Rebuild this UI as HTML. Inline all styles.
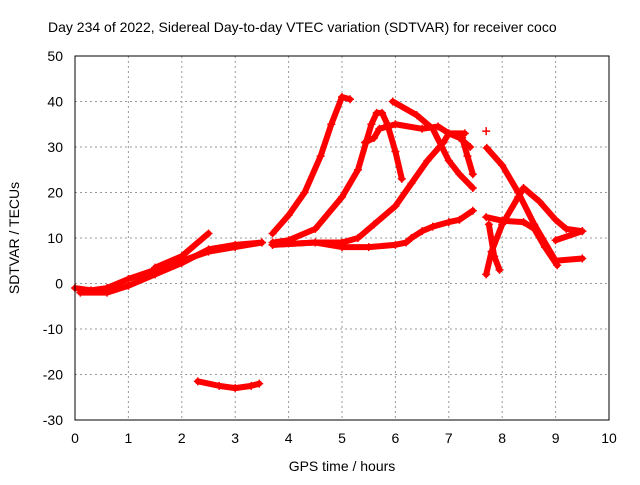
<!DOCTYPE html>
<html><head><meta charset="utf-8"><style>
body{margin:0;background:#fff;}
svg text{font-family:"Liberation Sans",sans-serif;font-size:14px;fill:#000;}
</style></head><body>
<svg id="chart" width="640" height="480">
<rect width="640" height="480" fill="#fff"/>
<text x="48" y="32">Day 234 of 2022, Sidereal Day-to-day VTEC variation (SDTVAR) for receiver coco</text>
<g id="grid"></g>
<g id="ticks"></g>
<g id="marks"></g>
<rect x="75" y="56" width="534" height="364" fill="none" stroke="#000"/>
<text x="342" y="471" text-anchor="middle">GPS time / hours</text>
<text transform="translate(19,238) rotate(-90)" text-anchor="middle">SDTVAR / TECUs</text>
</svg>
<script>
const xTicks=[0,1,2,3,4,5,6,7,8,9,10];
const yTicks=[-30,-20,-10,0,10,20,30,40,50];
const trackA=[[0,-1],[0.3,-1.5],[0.6,-1],[1,1],[1.5,3],[2,5],[2.5,7],[3,8],[3.5,9]];
const trackA2=[[0.1,-2],[0.6,-2],[1,-0.5],[1.5,2],[2,4.5],[2.5,7.5],[3,8.5],[3.5,9]];
const trackB=[[1.5,3.5],[2,6],[2.5,11]];
const trackNeg=[[2.3,-21.5],[2.7,-22.5],[3,-23],[3.3,-22.5],[3.45,-22]];
const trackC=[[3.7,11],[4,15],[4.3,20],[4.6,28],[4.8,35],[5,41],[5.15,40.5]];
const trackD=[[3.7,9],[4,9.5],[4.5,12],[5,19],[5.3,25],[5.45,31],[5.55,35],[5.65,37.5],[5.75,37.5],[5.85,35],[6,29],[6.12,23]];
const trackE=[[3.7,8.5],[4.5,9],[5,8],[5.5,8],[6,8.5],[6.2,9],[6.3,10],[6.5,11.5],[6.7,12.5],[7,13.5],[7.2,14],[7.45,16]];
const trackF=[[3.7,8.5],[4.5,9],[5,9],[5.3,10],[5.6,13],[6,17],[6.3,22],[6.6,27],[6.9,31],[7,33],[7.3,33]];
const trackG=[[5.95,40],[6.4,37],[6.7,34],[7,27],[7.2,24],[7.45,21]];
const trackP=[[5.43,31],[5.6,32],[5.7,34],[6,35],[6.5,34],[6.8,34.5],[7,33],[7.2,32],[7.4,30]];
const trackP2=[[7.25,32],[7.35,28],[7.45,24]];
const trackR1=[[7.71,29.8],[8,26],[8.3,20],[8.6,13],[9,5],[9.5,5.5]];
const trackR2=[[7.7,14.6],[8,13.8],[8.4,13.5],[8.6,12],[8.8,8],[9.03,4]];
const trackR3=[[7.7,2],[7.8,7],[8,13],[8.3,19],[8.4,21],[8.7,18],[9,14],[9.2,12],[9.5,11.5]];
const trackR4=[[7.75,13],[7.85,6],[7.95,3]];
const trackR5=[[9,9.5],[9.5,11.5]];
const trackIso=[[7.7,33.5]];
const tracks=[trackA,trackA2,trackB,trackNeg,trackC,trackD,trackE,trackF,trackG,trackP,trackP2,trackR1,trackR2,trackR3,trackR4,trackR5,trackIso];
const NS='http://www.w3.org/2000/svg';
const X=v=>75+v*53.4, Y=v=>283.5-v*4.55;
const grid=document.getElementById('grid'),ticks=document.getElementById('ticks'),marks=document.getElementById('marks');
function mk(t,a,p){const e=document.createElementNS(NS,t);for(const k in a)e.setAttribute(k,a[k]);p.appendChild(e);return e;}
xTicks.forEach(t=>{
 if(t>0&&t<10){const g=mk('line',{x1:X(t),x2:X(t),y1:56,y2:420,stroke:'#999','stroke-dasharray':'2,3'},grid);
 
 }
 const l=mk('text',{x:X(t),y:443,'text-anchor':'middle'},ticks);l.textContent=t;
 
 
});
yTicks.forEach(t=>{
 if(t>-30&&t<50){const g=mk('line',{x1:75,x2:609,y1:Y(t),y2:Y(t),stroke:'#999','stroke-dasharray':'2,3'},grid);
 
 }
 const l=mk('text',{x:63,y:Y(t)+5,'text-anchor':'end'},ticks);l.textContent=t;
 
 
});
tracks.forEach(tr=>{
 const pl=mk('polyline',{points:tr.map(p=>X(p[0])+','+Y(p[1])).join(' '),fill:'none',stroke:'#f00','stroke-width':6,'stroke-linejoin':'round','stroke-linecap':'round'},marks);
 
 
 tr.forEach(p=>{const x=X(p[0]),y=Y(p[1]);
  const m=mk('path',{d:`M${x-4},${y}H${x+4}M${x},${y-4}V${y+4}`,stroke:'#f00','stroke-width':1.5},marks);
  
  
 });
});
</script>
</body></html>
